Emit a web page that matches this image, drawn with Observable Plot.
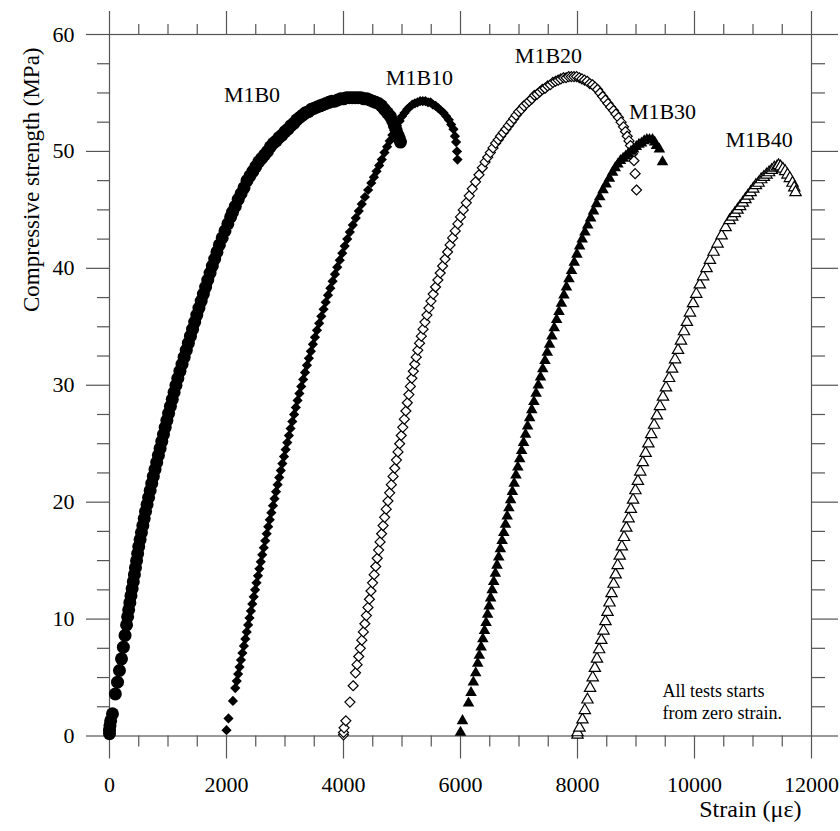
<!DOCTYPE html>
<html>
<head>
<meta charset="utf-8">
<script src="https://cdn.jsdelivr.net/npm/d3@7"></script>
<script src="https://cdn.jsdelivr.net/npm/@observablehq/plot@0.6"></script>
<style>
  html, body { margin: 0; padding: 0; background: #fff; }
  #chart svg { display: block; }
  #chart svg text { font-family: 'Liberation Serif', 'Times New Roman', serif; font-variant: normal; }
</style>
</head>
<body>
<div id="chart"></div>
<script>
// ---------- data: [strain (με), stress (MPa)] ----------
const m1b0 = [[0,0.2],[0,0.5],[8,0.9],[20,1.3],[51,1.9],[100,3.6],[137,4.6],[170,5.6],[205,6.6],[237,7.6],[266,8.6],[292,9.5],[310,10.2],
[328,10.8],[348,11.4],[367,12.0],[387,12.6],[407,13.2],[426,13.8],[444,14.4],[463,15.0],[481,15.6],[500,16.2],[523,16.8],[546,17.4],[570,18.0],[593,18.6],[616,19.2],[642,19.8],[668,20.4],[695,21.0],[722,21.6],[749,22.2],[778,22.8],[807,23.4],[836,24.0],[865,24.6],[894,25.2],[923,25.8],[952,26.4],[981,27.0],[1010,27.6],[1041,28.2],[1073,28.8],[1104,29.4],[1136,30.0],[1168,30.6],[1204,31.2],[1240,31.8],[1276,32.4],[1312,33.0],[1348,33.6],[1384,34.2],[1420,34.8],[1456,35.4],[1492,36.0],[1529,36.6],[1567,37.2],[1605,37.8],[1643,38.4],[1680,39.0],[1719,39.6],[1758,40.2],[1798,40.8],[1837,41.4],[1878,42.0],[1926,42.6],[1974,43.2],[2023,43.8],[2071,44.4],[2103,44.8],
[2150,45.3],[2200,45.9],[2250,46.4],[2300,46.9],[2350,47.5],[2400,47.9],[2450,48.3],[2500,48.7],[2550,49.1],[2600,49.4],[2650,49.7],[2700,50.0],[2750,50.4],[2800,50.7],[2850,50.9],[2900,51.2],[2950,51.4],[3000,51.7],[3050,51.9],[3100,52.2],[3150,52.4],[3200,52.7],[3250,52.9],[3300,53.1],[3350,53.3],[3400,53.4],[3450,53.6],[3500,53.7],[3550,53.8],[3600,53.9],[3650,54.0],[3700,54.1],[3750,54.2],[3800,54.3],[3850,54.3],[3900,54.4],[3950,54.5],[4000,54.5],[4050,54.6],[4100,54.6],[4150,54.6],[4200,54.6],[4250,54.6],[4300,54.6],[4350,54.5],[4400,54.5],[4450,54.4],[4500,54.3],[4550,54.2],[4600,54.1],[4650,53.9],[4700,53.6],[4750,53.3],[4800,53.0],[4840,52.6],[4870,52.2],[4900,51.8],[4930,51.4],[4955,51.1],[4974,50.8]];

const m1b10 = [[2000,0.5],[2034,1.5],[2110,3.0],[2150,4.1],[2175,4.7],[2199,5.3],[2223,5.9],[2247,6.5],[2272,7.1],[2297,7.7],[2322,8.3],[2346,8.9],[2370,9.5],[2393,10.1],[2417,10.7],[2441,11.3],[2465,11.9],[2489,12.5],[2513,13.1],[2538,13.7],[2562,14.3],[2586,14.9],[2611,15.5],[2637,16.1],[2662,16.7],[2687,17.3],[2713,17.9],[2740,18.5],[2767,19.1],[2794,19.7],[2821,20.3],[2847,20.9],[2874,21.5],[2901,22.1],[2928,22.7],[2955,23.3],[2983,23.9],[3011,24.5],[3039,25.1],[3067,25.7],[3095,26.3],[3125,26.9],[3155,27.5],[3185,28.1],[3215,28.7],[3246,29.3],[3278,29.9],[3310,30.5],[3342,31.1],[3375,31.7],[3408,32.3],[3442,32.9],[3477,33.5],[3512,34.1],[3546,34.7],[3584,35.3],[3621,35.9],[3659,36.5],[3696,37.1],[3735,37.7],[3775,38.3],[3814,38.9],[3854,39.5],[3893,40.1],[3936,40.7],[3979,41.3],[4021,41.9],[4064,42.5],[4108,43.1],[4159,43.7],[4210,44.3],[4261,44.9],[4312,45.5],[4366,46.1],[4421,46.7],[4475,47.3],[4520,47.8],
[4565,48.3],[4610,48.8],[4655,49.3],[4700,49.9],[4745,50.4],[4790,50.9],[4835,51.4],[4870,51.8],[4915,52.2],[4960,52.6],[5000,53.0],[5045,53.3],[5090,53.6],[5130,53.8],[5175,54.0],[5220,54.1],[5265,54.2],[5310,54.3],[5355,54.3],[5400,54.3],[5445,54.2],[5487,54.2],[5530,54.0],[5575,53.9],[5620,53.7],[5665,53.5],[5709,53.3],[5755,53.0],[5800,52.7],[5840,52.3],[5880,51.9],[5905,51.3],[5925,50.8],[5940,50.0],[5949,49.3]];

const m1b20 = [[4000,0.1],[4000,0.3],[4010,0.7],[4040,1.3],[4110,2.9],[4165,4.3],[4205,5.4],[4232,6.1],[4260,6.8],[4287,7.5],[4313,8.2],[4339,8.9],[4365,9.6],[4391,10.3],[4418,11.0],[4443,11.7],[4470,12.4],[4497,13.1],[4524,13.8],[4551,14.5],[4576,15.2],[4600,15.9],[4625,16.6],[4651,17.3],[4677,18.0],[4703,18.7],[4730,19.4],[4760,20.1],[4789,20.8],[4818,21.5],[4847,22.2],[4876,22.9],[4905,23.6],[4932,24.3],[4960,25.0],[4987,25.7],[5013,26.4],[5040,27.1],[5066,27.8],[5091,28.5],[5117,29.2],[5143,29.9],[5169,30.6],[5193,31.2],[5218,31.8],[5243,32.4],[5270,33.0],[5300,33.6],[5330,34.2],[5360,34.8],[5392,35.4],[5426,36.0],[5460,36.6],[5495,37.2],[5533,37.8],[5573,38.4],[5613,39.0],[5653,39.6],[5694,40.2],[5736,40.8],[5779,41.4],[5822,42.0],[5865,42.6],[5910,43.2],[5955,43.8],[6000,44.4],[6047,45.0],[6099,45.6],[6150,46.2],[6201,46.8],[6257,47.4],[6316,48.0],[6373,48.6],[6420,49.1],
[6465,49.5],[6510,49.9],[6555,50.3],[6600,50.7],[6645,51.0],[6684,51.3],[6730,51.6],[6775,51.9],[6820,52.2],[6865,52.5],[6910,52.8],[6950,53.1],[6995,53.4],[7040,53.6],[7085,53.9],[7130,54.1],[7175,54.3],[7220,54.5],[7265,54.8],[7310,54.9],[7355,55.1],[7400,55.3],[7445,55.4],[7490,55.6],[7535,55.7],[7580,55.9],[7625,56.0],[7670,56.1],[7715,56.2],[7760,56.3],[7805,56.3],[7850,56.4],[7895,56.4],[7940,56.4],[7985,56.4],[8030,56.3],[8075,56.2],[8120,56.1],[8165,56.0],[8210,55.8],[8255,55.7],[8300,55.5],[8342,55.3],[8385,55.0],[8430,54.7],[8475,54.4],[8520,54.1],[8565,53.8],[8615,53.5],[8655,53.2],[8700,52.9],[8745,52.5],[8786,52.1],[8820,51.7],[8850,51.3],[8880,50.9],[8906,50.5],[8940,49.8],[8965,49.2],[8985,48.1],[9009,46.7]];

const m1b30 = [[6000,0.3],[6034,1.3],[6137,2.8],[6180,3.7],[6220,4.6],[6260,5.4],[6295,6.2],[6322,6.9],[6352,7.6],[6382,8.3],[6410,9.0],[6437,9.7],[6463,10.4],[6489,11.1],[6515,11.8],[6541,12.5],[6568,13.2],[6596,13.9],[6624,14.6],[6653,15.3],[6682,16.0],[6711,16.7],[6740,17.4],[6769,18.1],[6798,18.8],[6827,19.5],[6857,20.2],[6887,20.9],[6917,21.6],[6948,22.3],[6980,23.0],[7012,23.7],[7045,24.4],[7078,25.1],[7112,25.8],[7147,26.5],[7182,27.2],[7218,27.9],[7255,28.6],[7292,29.3],[7330,30.0],[7368,30.7],[7406,31.4],[7444,32.1],[7483,32.8],[7522,33.5],[7562,34.2],[7602,34.9],[7643,35.6],[7684,36.3],[7725,37.0],[7768,37.7],[7811,38.4],[7854,39.1],[7898,39.8],[7944,40.5],[7990,41.2],[8036,41.9],[8080,42.5],[8127,43.1],[8175,43.7],[8224,44.3],[8274,44.9],[8325,45.5],[8380,46.1],[8436,46.7],[8490,47.2],[8545,47.7],[8600,48.2],
[8645,48.6],[8690,48.9],[8735,49.2],[8780,49.4],[8825,49.6],[8870,49.8],[8915,50.0],[8960,50.2],[9005,50.4],[9050,50.6],[9095,50.7],[9140,50.9],[9185,51.0],[9230,51.0],[9282,51.0],[9320,50.8],[9350,50.5],[9400,50.2],[9453,49.1]];

const m1b40 = [[8000,0.1],[8000,0.3],[8034,0.7],[8085,1.4],[8125,2.2],[8170,3.1],[8215,4.1],[8260,5.0],[8297,5.8],[8333,6.6],[8370,7.4],[8407,8.2],[8444,9.0],[8478,9.8],[8513,10.6],[8547,11.4],[8582,12.2],[8617,13.0],[8652,13.8],[8687,14.6],[8722,15.4],[8758,16.2],[8795,17.0],[8834,17.8],[8873,18.6],[8912,19.4],[8950,20.2],[8990,21.0],[9032,21.8],[9073,22.6],[9116,23.4],[9164,24.2],[9212,25.0],[9260,25.8],[9309,26.6],[9357,27.4],[9409,28.2],[9461,29.0],[9513,29.8],[9566,30.6],[9617,31.4],[9668,32.2],[9718,33.0],[9769,33.8],[9820,34.6],[9870,35.4],[9922,36.2],[9975,37.0],[10030,37.8],[10090,38.6],[10148,39.3],[10206,40.0],[10264,40.7],[10326,41.4],[10394,42.1],[10463,42.8],[10532,43.5],[10600,44.1],
[10645,44.4],[10690,44.7],[10735,45.0],[10780,45.3],[10825,45.6],[10870,45.9],[10915,46.2],[10960,46.5],[11005,46.8],[11050,47.1],[11095,47.3],[11140,47.6],[11185,47.8],[11230,48.0],[11275,48.2],[11320,48.4],[11365,48.6],[11410,48.7],[11436,48.8],[11470,48.7],[11510,48.5],[11550,48.3],[11590,48.0],[11630,47.7],[11675,47.3],[11705,46.9],[11727,46.5]];

const seriesNames = ["M1B0", "M1B10", "M1B20", "M1B30", "M1B40"];
const labelStrain = [2436, 5299, 7504, 9453, 11103];
const labelStress = [54.8, 56.3, 58.2, 53.4, 51.0];

const xMajorTicks = [0, 2000, 4000, 6000, 8000, 10000, 12000];
const xMinorTicks = [500, 1000, 1500, 2500, 3000, 3500, 4500, 5000, 5500, 6500, 7000, 7500, 8500, 9000, 9500, 10500, 11000, 11500];
const yMajorTicks = [0, 10, 20, 30, 40, 50, 60];
const yMinorTicks = [2.5, 5, 7.5, 12.5, 15, 17.5, 22.5, 25, 27.5, 32.5, 35, 37.5, 42.5, 45, 47.5, 52.5, 55, 57.5];

const xTitle = "Strain (με)";
const yTitle = "Compressive strength (MPa)";
const note = "All tests starts\nfrom zero strain.";

// ---------- chart ----------
const serif = "'Liberation Serif', 'Times New Roman', serif";
const labels = seriesNames.map((name, i) => ({name, x: labelStrain[i], y: labelStress[i]}));
const px = d => d[0], py = d => d[1];
const axisColor = "#555";
const noText = () => "";

const chart = Plot.plot({
  width: 840,
  height: 831,
  marginLeft: 109,
  marginRight: 29,
  marginTop: 34,
  marginBottom: 95.5,
  style: {fontFamily: serif, fontSize: "22px", color: "black", background: "white"},
  x: {domain: [0, 12000], axis: null},
  y: {domain: [0, 60], axis: null},
  marks: [
    Plot.frame({stroke: axisColor, strokeWidth: 1.2}),
    // major / minor ticks on four sides (outward)
    Plot.axisX(xMajorTicks, {anchor: "bottom", tickSize: 23, tickFormat: noText, stroke: axisColor, strokeWidth: 1.2, label: null}),
    Plot.axisX(xMajorTicks, {anchor: "top", tickSize: 24, tickFormat: noText, stroke: axisColor, strokeWidth: 1.2, label: null}),
    Plot.axisX(xMinorTicks, {anchor: "bottom", tickSize: 11, tickFormat: noText, stroke: axisColor, strokeWidth: 1.2, label: null}),
    Plot.axisX(xMinorTicks, {anchor: "top", tickSize: 11, tickFormat: noText, stroke: axisColor, strokeWidth: 1.2, label: null}),
    Plot.axisY(yMajorTicks, {anchor: "left", tickSize: 23, tickFormat: noText, stroke: axisColor, strokeWidth: 1.2, label: null}),
    Plot.axisY(yMajorTicks, {anchor: "right", tickSize: 26, tickFormat: noText, stroke: axisColor, strokeWidth: 1.2, label: null}),
    Plot.axisY(yMinorTicks, {anchor: "left", tickSize: 12, tickFormat: noText, stroke: axisColor, strokeWidth: 1.2, label: null}),
    Plot.axisY(yMinorTicks, {anchor: "right", tickSize: 13, tickFormat: noText, stroke: axisColor, strokeWidth: 1.2, label: null}),
    // tick labels
    Plot.axisX(xMajorTicks, {anchor: "bottom", tickSize: 0, tickPadding: 40, tickFormat: d => String(d), label: null, fill: "black", fontFamily: serif, fontSize: 22}),
    Plot.axisY(yMajorTicks, {anchor: "left", tickSize: 0, tickPadding: 35, tickFormat: d => String(d), label: null, fill: "black", fontFamily: serif, fontSize: 22}),
    // data
    Plot.dot(m1b20, {x: px, y: py, r: 4.5, symbol: "diamond2", fill: "white", stroke: "black", strokeWidth: 1.2}),
    Plot.dot(m1b10, {x: px, y: py, r: 4.6, symbol: "diamond2", fill: "black", stroke: "none"}),
    Plot.dot(m1b40, {x: px, y: py, r: 4.2, symbol: "triangle", fill: "white", stroke: "black", strokeWidth: 1.2}),
    Plot.dot(m1b30, {x: px, y: py, r: 4.3, symbol: "triangle", fill: "black", stroke: "none"}),
    Plot.dot(m1b0, {x: px, y: py, r: 6.5, symbol: "circle", fill: "black", stroke: "none"}),
    // series labels
    Plot.text(labels, {x: "x", y: "y", text: "name", fontSize: 22, fontFamily: serif, fill: "black"}),
    // note
    Plot.text([note], {x: () => 9453, y: () => 2.96, text: d => d, textAnchor: "start", lineHeight: 1.22, fontSize: 18, fontFamily: serif, fill: "black"}),
    // axis titles
    Plot.text([xTitle], {frameAnchor: "bottom-right", text: d => d, textAnchor: "end", dx: -10, dy: 80.5, fontSize: 24, fontFamily: serif, fill: "black"}),
    Plot.text([yTitle], {frameAnchor: "top-left", text: d => d, textAnchor: "end", rotate: -90, dx: -87, dy: 13, fontSize: 23, fontFamily: serif, fill: "black"})
  ]
});
document.getElementById("chart").appendChild(chart);
</script>
</body>
</html>
